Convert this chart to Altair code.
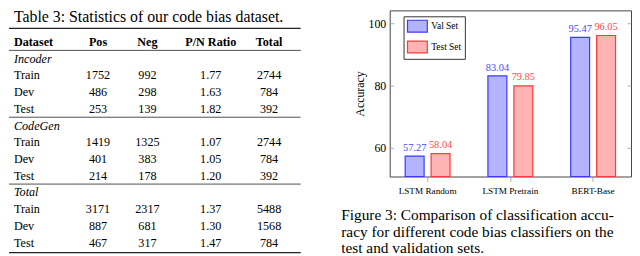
import altair as alt
import pandas as pd

SERIF = "serif"

# ---------------- table data ----------------
table_title = "Table 3:  Statistics of our code bias dataset."
columns = ["Dataset", "Pos", "Neg", "P/N Ratio", "Total"]
sections = ["Incoder", "CodeGen", "Total"]
splits = ["Train", "Dev", "Test"]
pos_counts = [[1752, 486, 253], [1419, 401, 214], [3171, 887, 467]]
neg_counts = [[992, 298, 139], [1325, 383, 178], [2317, 681, 317]]
pn_ratio = [[1.77, 1.63, 1.82], [1.07, 1.05, 1.20], [1.37, 1.30, 1.47]]
totals = [[2744, 784, 392], [2744, 784, 392], [5488, 1568, 784]]
rule_after = [-1, 0, 4, 8, 12]
rule_kind = ["top", "mid", "mid", "mid", "bottom"]

# ---------------- bar chart data ----------------
models = ["LSTM Random", "LSTM Pretrain", "BERT-Base"]
series = ["Val Set", "Test Set"]
val_acc = [57.27, 83.04, 95.47]
test_acc = [58.04, 79.85, 96.05]
y_ticks = [60, 80, 100]
caption = [
    "Figure 3: Comparison of classification accu-",
    "racy for different code bias classifiers on the",
    "test and validation sets.",
]

# ---------------- build table frames ----------------
header_df = pd.DataFrame({"ci": list(range(len(columns))), "row": 0, "text": columns})
section_rows, label_rows, num_rows = [], [], []
for i, sec in enumerate(sections):
    r0 = 1 + 4 * i
    section_rows.append({"ci": 0, "row": r0, "text": sec})
    for j, sp in enumerate(splits):
        r = r0 + 1 + j
        label_rows.append({"ci": 0, "row": r, "text": sp})
        num_rows.append({"ci": 1, "row": r, "text": str(pos_counts[i][j])})
        num_rows.append({"ci": 2, "row": r, "text": str(neg_counts[i][j])})
        num_rows.append({"ci": 3, "row": r, "text": f"{pn_ratio[i][j]:.2f}"})
        num_rows.append({"ci": 4, "row": r, "text": str(totals[i][j])})
section_df = pd.DataFrame(section_rows)
label_df = pd.DataFrame(label_rows)
num_df = pd.DataFrame(num_rows)
title_df = pd.DataFrame({"ci": [0], "row": [-1.52], "text": [table_title]})
rules_df = pd.DataFrame({"after": rule_after, "kind": rule_kind})

# table geometry (pixels inside the table panel, which starts 8px in from the page corner)
ROW_PX, HEADER_Y, TABLE_H, TABLE_W = 16.9, 32.0, 248, 295
tx = alt.X("ci:Q", scale=alt.Scale(domain=[0, 1, 2, 3, 4], range=[5, 90, 140, 204, 263]), axis=None)
ty = alt.Y("row:Q", scale=alt.Scale(domain=[-HEADER_Y / ROW_PX, (TABLE_H - HEADER_Y) / ROW_PX],
                                    reverse=True, zero=False, nice=False), axis=None)

def tlayer(df, align, weight="normal", style="normal", size=12.3):
    return alt.Chart(df).mark_text(align=align, baseline="middle", font=SERIF, fontSize=size,
                                   fontWeight=weight, fontStyle=style, color="black", clip=True).encode(
        x=tx, y=ty, text="text:N")

t_title = tlayer(title_df, "left", size=16)
t_head_l = tlayer(header_df[header_df.ci == 0], "left", weight="bold")
t_head_c = tlayer(header_df[header_df.ci > 0], "center", weight="bold")
t_sec = tlayer(section_df, "left", style="italic")
t_lab = tlayer(label_df, "left")
t_num = tlayer(num_df, "center")
t_rules = alt.Chart(rules_df).transform_calculate(
    row="datum.after + 0.5 + (datum.kind == 'top' ? -0.32 : (datum.kind == 'bottom' ? 0.1 : 0))",
    w="datum.kind == 'mid' ? 0.8 : 1.4",
).mark_rule(color="#222").encode(y=ty, strokeWidth=alt.StrokeWidth("w:Q", scale=None))

table = alt.layer(t_rules, t_title, t_head_l, t_head_c, t_sec, t_lab, t_num).properties(
    width=TABLE_W, height=TABLE_H, view=alt.ViewBackground(stroke=None))

# ---------------- bar chart ----------------
bar_df = pd.DataFrame({
    "model": models * 2,
    "series": [series[0]] * 3 + [series[1]] * 3,
    "acc": val_acc + test_acc,
})
Y_MIN, Y_MAX = 50.68, 104.14

ysc = alt.Scale(domain=[Y_MIN, Y_MAX], zero=False, nice=False)
yaxis = alt.Axis(values=y_ticks, title="Accuracy", titleFont=SERIF, titleFontSize=12, titleFontWeight="normal",
                 titleColor="black", titlePadding=2, labelFont=SERIF, labelFontSize=12, labelColor="black",
                 ticks=False, tickSize=0, labelPadding=4, domain=False, grid=True, gridDash=[4, 236],
                 gridColor="#999999", gridWidth=0.8)
xbottom = alt.Axis(title=None, labelFont=SERIF, labelFontSize=9.3, labelColor="black", labelAngle=0,
                   tickColor="#999999", tickSize=5, tickWidth=0.8, domain=False, labelPadding=5)

leg = alt.Legend(title=None, orient="none", legendX=14, legendY=6, symbolType="M-1.67,-1H1.67V1H-1.67Z",
                 symbolSize=144, symbolStrokeWidth=1.2, symbolOffset=4, labelFont=SERIF, labelFontSize=9.5,
                 labelColor="black", padding=3, strokeColor="#333333", fillColor="white", rowPadding=3,
                 labelOffset=7)

bars = alt.Chart(bar_df).mark_bar(strokeWidth=1.2).encode(
    x=alt.X("model:N", sort=models, scale=alt.Scale(paddingInner=0.458, paddingOuter=0.187), axis=xbottom),
    xOffset=alt.XOffset("series:N", sort=series, scale=alt.Scale(paddingInner=0.27, paddingOuter=0)),
    y=alt.Y("acc:Q", scale=ysc, axis=yaxis),
    y2=alt.datum(Y_MIN),
    fill=alt.Fill("series:N", sort=series, scale=alt.Scale(domain=series, range=["#b3b3ff", "#ffb3b3"]), legend=leg),
    stroke=alt.Stroke("series:N", sort=series, scale=alt.Scale(domain=series, range=["#3a3aff", "#ff3a3a"]), legend=leg),
)
labels = alt.Chart(bar_df).mark_text(baseline="middle", dy=-8.5, font=SERIF, fontSize=10.5).encode(
    x=alt.X("model:N", sort=models),
    xOffset=alt.XOffset("series:N", sort=series),
    y=alt.Y("acc:Q", scale=ysc),
    text=alt.Text("acc:Q", format=".2f"),
    color=alt.Color("series:N", sort=series, scale=alt.Scale(domain=series, range=["#4a4aff", "#ff4a4a"]), legend=None),
)

barchart = alt.layer(bars, labels).properties(
    width=244, height=168,
    view=alt.ViewBackground(stroke="#444444", strokeWidth=1),
    title=alt.TitleParams(text=caption, orient="bottom", anchor="start", font=SERIF, fontSize=15.5,
                          fontWeight="normal", lineHeight=16.5, offset=13, dx=-12, color="black"),
)

chart = alt.hconcat(table, barchart, spacing=39).resolve_legend(
    fill="independent", stroke="independent", color="independent"
).properties(
    padding=0,
    background="white",
).configure_view(stroke=None)

chart.save("out.html", embed_options={"renderer": "svg", "actions": False})
